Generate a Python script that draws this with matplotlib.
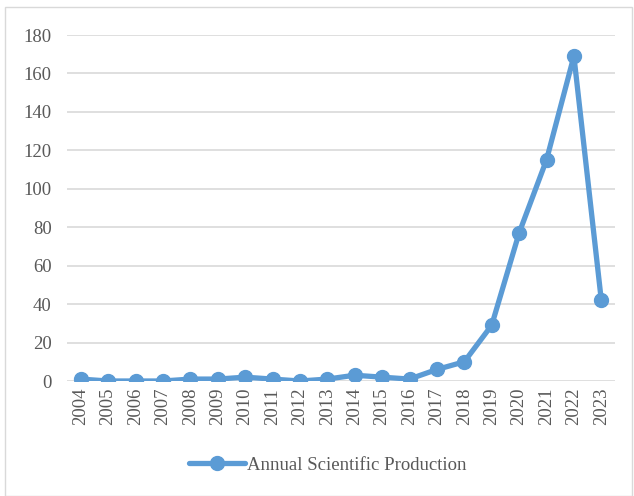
import matplotlib.pyplot as plt
from matplotlib.patches import Rectangle

years = [str(y) for y in range(2004, 2024)]
counts = [1, 0, 0, 0, 1, 1, 2, 1, 0, 1, 3, 2, 1, 6, 10, 29, 77, 115, 169, 42]
yticks = [0, 20, 40, 60, 80, 100, 120, 140, 160, 180]

plt.rcParams['font.family'] = ['Liberation Serif', 'DejaVu Serif']

fig = plt.figure(figsize=(6.34, 4.96), dpi=100)
ax = fig.add_axes([67 / 634, 1 - 381 / 496, (615 - 67) / 634, (381 - 35) / 496])

x = list(range(len(years)))
ax.plot(x, counts, color='#5B9BD5', lw=3.8, marker='o', markersize=10,
        label='Annual Scientific Production', solid_capstyle='round')

ax.set_xlim(-0.5, len(years) - 0.5)
ax.set_ylim(0, 180)
ax.set_yticks(yticks)
ax.set_xticks(x)
ax.set_xticklabels(years, rotation=90)
ax.grid(axis='y', color='#D9D9D9', lw=1.2)
ax.set_axisbelow(True)
for s in ax.spines.values():
    s.set_visible(False)
ax.tick_params(length=0, colors='#595959', labelsize=13.5)
ax.tick_params(axis='y', pad=11)
ax.tick_params(axis='x', pad=5)

leg = fig.legend(loc='center', bbox_to_anchor=(0.517, 1 - 465 / 496), frameon=False,
                 fontsize=13.5, handlelength=3.0, handletextpad=0.1)
for t in leg.get_texts():
    t.set_color('#595959')

fig.patches.append(Rectangle((5 / 634, 0), 627 / 634, 1 - 7 / 496, transform=fig.transFigure,
                             fill=False, edgecolor='#D9D9D9', lw=1))

fig.savefig('out.png', dpi=100)
